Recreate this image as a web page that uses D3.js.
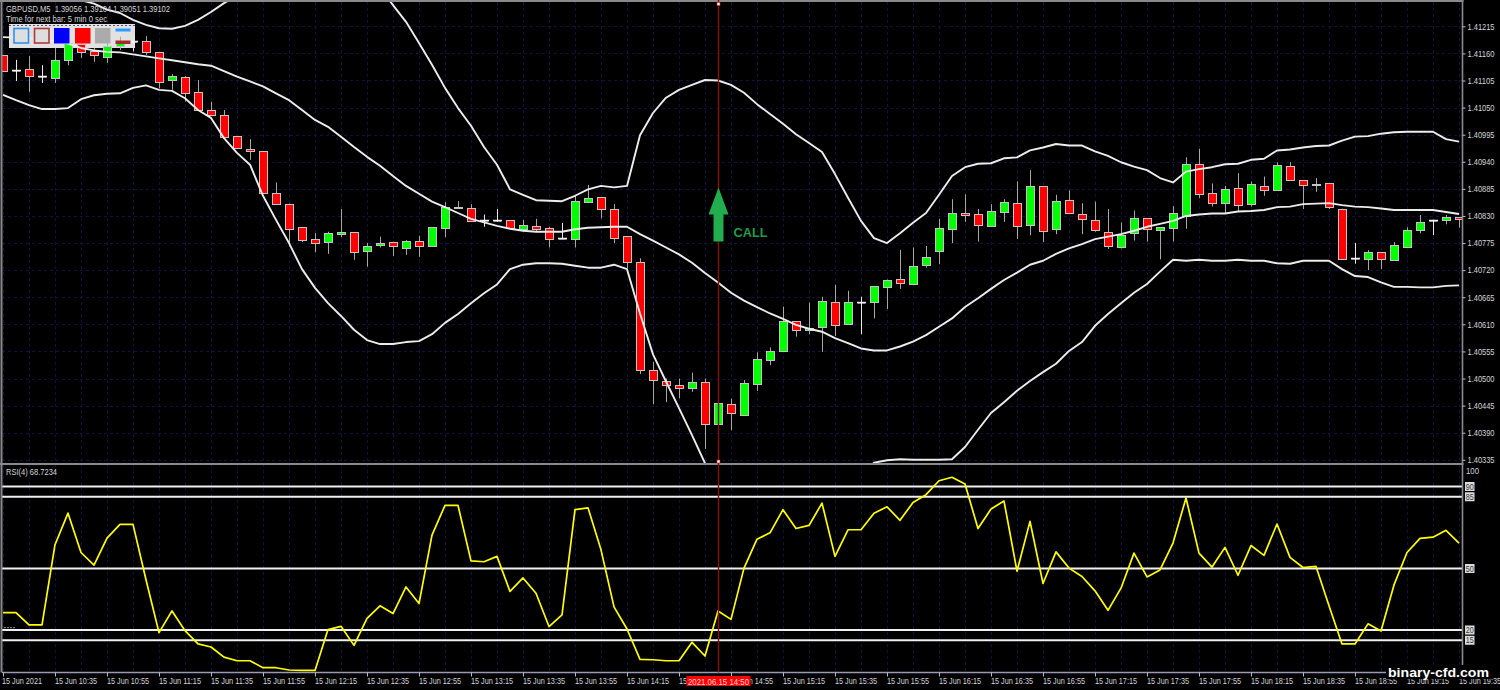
<!DOCTYPE html>
<html><head><meta charset="utf-8">
<script src="https://cdnjs.cloudflare.com/ajax/libs/d3/7.8.5/d3.min.js"></script>
<style>html,body{margin:0;padding:0;background:#000;overflow:hidden}svg{display:block}text{font-family:"Liberation Sans",sans-serif}</style>
</head><body><svg id="c" width="1500" height="690"></svg>
<script>
// Prices are stored as points above 1.40000 (1 point = 0.00001)
const priceBase = 1.4;
const barOpen = [1157,1126,1128,1114,1110,1147,1179,1164,1152,1176,1186,1185,1162,1105,1113,1081,1045,1034,992,965,961,876,855,807,784,777,794,797,758,770,777,764,779,769,807,845,847,822,821,822,804,810,805,785,784,859,868,845,789,737,517,494,486,481,493,407,448,425,490,538,556,616,598,605,656,610,656,656,686,703,691,731,759,804,836,833,810,838,856,810,891,804,862,833,822,798,767,794,825,801,804,831,935,876,857,886,853,891,884,932,902,891,896,845,744,741,756,741,768,802,821,820,827];
const barHigh = [1157,1147,1155,1136,1171,1187,1187,1171,1183,1194,1194,1195,1163,1118,1114,1106,1062,1045,992,986,961,898,855,807,795,798,844,797,775,788,778,781,790,807,858,860,854,833,844,822,822,824,808,816,871,893,868,854,789,744,534,500,500,512,500,450,459,497,553,563,646,616,654,666,690,678,666,688,701,761,766,769,824,864,874,844,854,864,900,923,891,873,882,856,859,844,817,841,825,807,850,949,966,896,891,917,900,910,939,939,902,907,896,845,775,761,756,777,807,832,822,832,827];
const barLow = [1125,1104,1082,1100,1100,1136,1151,1143,1141,1167,1164,1157,1089,1086,1062,1045,1034,990,967,944,876,853,768,777,756,753,787,741,727,766,749,751,747,769,787,845,820,808,818,806,798,797,766,783,766,856,825,775,724,509,448,452,460,473,357,407,395,425,475,527,556,585,590,554,586,610,590,622,641,682,691,725,732,775,818,778,810,818,783,791,777,793,835,793,798,763,764,780,778,742,778,804,866,849,835,839,849,871,884,903,844,879,844,743,733,720,722,741,768,795,791,813,806];
const barClose = [1125,1126,1114,1114,1147,1182,1162,1155,1174,1184,1186,1162,1101,1114,1081,1045,1034,990,967,961,876,853,805,780,775,796,798,756,769,775,769,779,769,807,849,848,820,822,821,806,812,804,783,785,861,867,844,787,737,517,496,486,480,493,407,450,429,490,540,556,616,597,602,658,609,655,656,688,701,695,728,747,805,836,831,810,840,858,810,890,800,861,835,823,802,769,791,825,803,807,835,936,875,856,885,852,894,883,934,903,891,894,847,743,744,756,741,771,802,818,821,827,822];
const bandUpper = [1311,1319,1327,1327,1323,1311,1268,1261,1249,1242,1228,1218,1211,1210,1216,1228,1244,1262,1277,1289,1315,1335,1346,1368,1366,1368,1356,1342,1321,1293,1258,1224,1181,1137,1090,1049,1013,970,934,884,873,862,861,860,871,884,891,888,891,994,1039,1070,1086,1096,1106,1105,1096,1080,1057,1037,1017,996,978,960,915,867,820,785,775,795,816,836,873,911,929,936,937,947,949,963,969,976,973,973,961,952,939,930,923,907,898,920,925,929,935,936,944,946,963,965,969,972,973,983,991,992,997,1000,1001,1001,1001,986,981];
const bandMiddle = [1193,1192,1191,1187,1185,1180,1171,1166,1163,1162,1158,1154,1150,1146,1142,1138,1135,1124,1113,1103,1093,1079,1065,1045,1025,1011,991,970,950,932,911,891,875,859,848,836,824,817,810,804,800,798,798,798,803,806,807,808,808,793,780,766,752,735,714,695,674,658,645,632,621,609,601,595,582,572,561,557,557,565,575,588,605,622,645,663,682,700,715,731,739,753,764,773,783,788,793,800,808,814,820,830,833,835,835,839,840,842,848,849,854,855,856,852,849,848,845,842,842,842,842,838,834];
const bandLower = [1076,1065,1055,1047,1047,1049,1067,1075,1078,1079,1090,1095,1086,1084,1069,1045,1029,988,958,934,871,822,775,722,684,653,627,599,578,570,570,574,576,590,613,631,653,673,691,722,731,734,734,733,729,725,725,731,722,632,549,494,440,385,328,284,253,237,231,227,225,221,223,231,247,276,302,329,334,336,335,335,335,336,361,396,430,452,475,495,513,530,556,574,607,631,653,674,692,717,741,739,741,739,739,741,739,739,734,733,739,739,739,722,708,706,695,686,686,685,685,688,689];
const rsiValues = [28.5,28.5,22.5,22.5,61.6,77,57.8,51.6,64.8,71.5,71.5,44.5,18.7,29.3,19.7,13.2,11.7,6.8,5,5,1.6,1.6,0.5,0.3,0.3,20.2,21.8,12.5,25.7,31.8,28,41,32.9,66.3,80.8,80.8,53.7,53.3,55.9,38.8,45.4,37.9,21.7,27.4,78.7,79.6,59.1,31.3,20.5,5.7,5.5,5,5,14,7.3,29.3,25.2,50.2,64.3,67.4,78.7,69.5,71,81.9,55.9,68.9,68.9,77,80.1,73.5,82.2,86,92.8,94.5,91.2,69.5,79,82.9,48.7,73,42.7,58.1,50.2,46.1,39.1,29.6,40.4,57.5,45.9,49.3,62.4,84.4,57.5,50.7,60.3,46.7,61.2,56.4,71.7,55.4,50.5,51,31.8,13.2,13.2,23,19.5,42,57.8,64.7,65.3,68.6,62.4];
const priceTicks = [1.41215,1.41160,1.41105,1.41050,1.40995,1.40940,1.40885,1.40830,1.40775,1.40720,1.40665,1.40610,1.40555,1.40500,1.40445,1.40390,1.40335];
const rsiLevels = [90,85,50,20,15];
const rsiAxisLabels = [100,0];
const timeLabels = ["15 Jun 2021","15 Jun 10:35","15 Jun 10:55","15 Jun 11:15","15 Jun 11:35","15 Jun 11:55","15 Jun 12:15","15 Jun 12:35","15 Jun 12:55","15 Jun 13:15","15 Jun 13:35","15 Jun 13:55","15 Jun 14:15","15 Jun 14:35","15 Jun 14:55","15 Jun 15:15","15 Jun 15:35","15 Jun 15:55","15 Jun 16:15","15 Jun 16:35","15 Jun 16:55","15 Jun 17:15","15 Jun 17:35","15 Jun 17:55","15 Jun 18:15","15 Jun 18:35","15 Jun 18:55","15 Jun 19:15","15 Jun 19:35"];
const markerBar = 55, markerLabel = "2021.06.15 14:50";
const callTip = 888, callShoulder = 833, callFoot = 778;
const headerLines = ["GBPUSD,M5  1.39056 1.39104 1.39051 1.39102","Time for next bar: 5 min 0 sec"];
const rsiTitle = "RSI(4) 68.7234";

const pr = p => priceBase + p/1e5;
const n = barOpen.length;
const bars = d3.range(n);
const x = d3.scaleLinear().domain([0,n-1]).range([3,1459]);
const y = d3.scaleLinear().domain([1.41215,1.40335]).range([26.3,459.8]);
const yr = d3.scaleLinear().domain([100,0]).range([466,671]);
const M = {l:2,r:1462.5,t:2,b:463,rt:465,rb:672.5};
const FONT = '"Liberation Sans",sans-serif', TXT="#d6d6d6", FS=8.8;
// squeeze text to the narrow width of the terminal's font
const fit = (s,w)=>s.attr("textLength",w).attr("lengthAdjust","spacingAndGlyphs");

const svg = d3.select("#c");
svg.append("rect").attr("width",1500).attr("height",690).attr("fill","#000");
const defs = svg.append("defs");
defs.append("clipPath").attr("id","mainClip").append("rect").attr("x",M.l).attr("y",M.t).attr("width",M.r-M.l).attr("height",M.b-M.t);
defs.append("clipPath").attr("id","rsiClip").append("rect").attr("x",M.l).attr("y",M.rt).attr("width",M.r-M.l).attr("height",M.rb-M.rt);

// grid
const GRID="#12123f";
const gridX = d3.range(0,n,2);
const grid = svg.append("g").attr("stroke",GRID).attr("stroke-width",1).attr("stroke-dasharray","3,3");
grid.selectAll(".gv").data(gridX).join("line").attr("x1",d=>x(d)+.5).attr("x2",d=>x(d)+.5).attr("y1",M.t).attr("y2",M.rb);
grid.selectAll(".gh").data(priceTicks).join("line").attr("x1",M.l).attr("x2",M.r).attr("y1",d=>Math.round(y(d))+.5).attr("y2",d=>Math.round(y(d))+.5);

// panel separator
svg.append("rect").attr("x",0).attr("y",M.b).attr("width",M.r+1).attr("height",2).attr("fill","#8a8a8a");

// menu background
const menu = {x:9,y:24,w:126,h:24};
svg.append("rect").attr("x",menu.x).attr("y",menu.y).attr("width",menu.w).attr("height",menu.h).attr("fill","#e2e2e2");
svg.append("line").attr("x1",menu.x).attr("x2",menu.x+menu.w).attr("y1",menu.y+1.5).attr("y2",menu.y+1.5).attr("stroke","#555577").attr("stroke-dasharray","2,2");

// candles
const main = svg.append("g").attr("clip-path","url(#mainClip)");
main.selectAll(".wick").data(bars).join("line")
  .attr("x1",i=>x(i)+.5).attr("x2",i=>x(i)+.5)
  .attr("y1",i=>y(pr(barHigh[i]))).attr("y2",i=>y(pr(barLow[i])))
  .attr("stroke",i=>barOpen[i]===barClose[i]?"#e8e8e8":"#a8a8a8").attr("stroke-width",1);
main.selectAll(".body").data(bars).join("rect")
  .attr("x",i=>x(i)-3.5).attr("width",8)
  .attr("y",i=>Math.round(y(pr(Math.max(barOpen[i],barClose[i]))))+.5)
  .attr("height",i=>Math.max(Math.round(Math.abs(y(pr(barOpen[i]))-y(pr(barClose[i])))),1))
  .attr("fill",i=>barClose[i]>barOpen[i]?"#00ff00":barClose[i]<barOpen[i]?"#ff0000":"#ffffff")
  .attr("stroke",i=>barClose[i]===barOpen[i]?"none":"#c4c4c4").attr("stroke-width",1);
main.selectAll(".doji").data(bars.filter(i=>barOpen[i]===barClose[i])).join("line")
  .attr("x1",i=>x(i)-4).attr("x2",i=>x(i)+5)
  .attr("y1",i=>Math.round(y(pr(barOpen[i])))+.5).attr("y2",i=>Math.round(y(pr(barOpen[i])))+.5)
  .attr("stroke","#f0f0f0").attr("stroke-width",1.4);

// Bollinger bands
const bandLine = d3.line().x((d,i)=>x(i)).y(d=>y(pr(d)));
[bandUpper,bandMiddle,bandLower].forEach(b=>{
  main.append("path").attr("d",bandLine(b)).attr("fill","none").attr("stroke","#ececec").attr("stroke-width",1.9).attr("stroke-linejoin","round");
});

// menu buttons
const btn = svg.append("g");
btn.append("rect").attr("x",14).attr("y",28.5).attr("width",14.5).attr("height",14.5).attr("fill","#dedede").attr("stroke","#2f8fef").attr("stroke-width",1.6);
btn.append("rect").attr("x",34.5).attr("y",28.5).attr("width",14.5).attr("height",14.5).attr("fill","#dedede").attr("stroke","#b03a3a").attr("stroke-width",1.6);
btn.append("rect").attr("x",54).attr("y",28).attr("width",15.5).attr("height",15.5).attr("fill","#0000ff");
btn.append("rect").attr("x",75).attr("y",28).attr("width",15.5).attr("height",15.5).attr("fill","#ff0000");
btn.append("rect").attr("x",95).attr("y",28).attr("width",15.5).attr("height",15.5).attr("fill","#ababab");
btn.append("rect").attr("x",115.5).attr("y",28.5).attr("width",15).attr("height",3).attr("fill","#2f9bff");
btn.append("rect").attr("x",115.5).attr("y",40.5).attr("width",15).attr("height",3.5).attr("fill","#a52a2a");

// RSI panel
const rsi = svg.append("g").attr("clip-path","url(#rsiClip)");
rsi.selectAll(".lvl").data(rsiLevels).join("line")
  .attr("x1",M.l).attr("x2",M.r).attr("y1",d=>yr(d)).attr("y2",d=>yr(d))
  .attr("stroke","#f0f0f0").attr("stroke-width",2);
rsi.append("path").attr("d",d3.line().x((d,i)=>x(i)).y(d=>yr(d))(rsiValues)).attr("fill","none").attr("stroke","#ffff00").attr("stroke-width",1.7).attr("stroke-linejoin","round");
svg.append("line").attr("x1",4).attr("x2",16).attr("y1",627.7).attr("y2",627.7).attr("stroke","#9a9a9a").attr("stroke-dasharray","2,1");

// frame
svg.append("line").attr("x1",1.5).attr("x2",1.5).attr("y1",0).attr("y2",M.rb).attr("stroke","#8a8a8a").attr("stroke-width",2);
svg.append("line").attr("x1",0).attr("x2",M.r+1).attr("y1",1).attr("y2",1).attr("stroke","#8a8a8a").attr("stroke-width",2);
svg.append("line").attr("x1",M.r).attr("x2",M.r).attr("y1",0).attr("y2",M.rb).attr("stroke","#8a8a8a").attr("stroke-width",1.6);
svg.append("line").attr("x1",M.l).attr("x2",M.r).attr("y1",M.rb).attr("y2",M.rb).attr("stroke","#9a9ab8").attr("stroke-width",1.4);

// vertical marker
const mx = x(markerBar)+.5;
svg.append("line").attr("x1",mx).attr("x2",mx).attr("y1",0).attr("y2",M.rb).attr("stroke","#8b0f0f").attr("stroke-width",1.4);
[4,461.5].forEach(v=>svg.append("rect").attr("x",mx-1.5).attr("y",v-1.5).attr("width",3).attr("height",3).attr("fill","#fff").attr("stroke","#d02020").attr("stroke-width",.6));

// CALL arrow
const ay = p=>y(pr(p));
const halfHead = 10, halfShaft = 5;
svg.append("path").attr("fill","#22ad4e").attr("d",d3.line()([
 [mx,ay(callTip)],[mx+halfHead,ay(callShoulder)],[mx+halfShaft,ay(callShoulder)],[mx+halfShaft,ay(callFoot)],
 [mx-halfShaft,ay(callFoot)],[mx-halfShaft,ay(callShoulder)],[mx-halfHead,ay(callShoulder)]])+"Z");
svg.append("text").attr("x",mx+15).attr("y",ay(callFoot)-4.5).text("CALL").attr("fill","#1f9d48").attr("font-size",13.5).attr("font-weight","bold").attr("font-family",'"Open Sans",sans-serif').call(fit,34);

// price axis
const axY = svg.append("g").call(d3.axisRight(y).tickValues(priceTicks).tickFormat(d3.format(".5f")).tickSize(3).tickPadding(2)).attr("transform",`translate(${M.r},0)`);
axY.select(".domain").remove();
axY.selectAll("line").attr("stroke","#bbb");
axY.selectAll("text").attr("fill",TXT).attr("font-size",FS).attr("font-family",FONT).call(fit,27);

// time axis
const tickBars = timeLabels.map((d,i)=>i*4);
const tg = svg.append("g");
tg.selectAll("line").data(tickBars).join("line").attr("x1",d=>x(d)+.5).attr("x2",d=>x(d)+.5).attr("y1",M.rb).attr("y2",M.rb+4).attr("stroke","#bbb");
tg.selectAll("text").data(tickBars).join("text").attr("x",d=>d===0?2:x(d)).attr("y",684).text((d,i)=>timeLabels[i]).attr("fill",TXT).attr("font-size",FS).attr("font-family",FONT).each(function(d){d3.select(this).call(fit,d===0?40:42)});

// marker date label
svg.append("rect").attr("x",mx-32).attr("y",676).attr("width",64).attr("height",10).attr("fill","#ff0000");
svg.append("text").attr("x",mx-30.5).attr("y",684.5).text(markerLabel).attr("fill","#ffd8d8").attr("font-size",FS).attr("font-family",FONT).call(fit,61);

// RSI axis
rsiAxisLabels.forEach(v=>{svg.append("text").attr("x",1466).attr("y",yr(v)+(v===100?7.5:0)).text(v).attr("fill",TXT).attr("font-size",FS).attr("font-family",FONT).call(fit,v===100?13:4.5);});
const lb = svg.append("g").selectAll("g").data(rsiLevels).join("g").attr("transform",d=>`translate(1465,${yr(d)-4.5})`);
lb.append("rect").attr("width",9.5).attr("height",9).attr("fill","#dcdcdc");
lb.append("text").attr("x",.8).attr("y",7.5).text(d=>d).attr("fill","#333").attr("font-size",FS).call(fit,8);

// headers
svg.selectAll(".h").data(headerLines).join("text").attr("x",6).attr("y",(d,i)=>11.5+i*10.5).attr("xml:space","preserve").style("white-space","pre").text(d=>d).attr("fill",TXT).attr("font-size",FS).attr("font-family",FONT).each(function(d,i){d3.select(this).call(fit,i?101:164)});
svg.append("text").attr("x",6).attr("y",475).text(rsiTitle).attr("fill",TXT).attr("font-size",FS).attr("font-family",FONT).call(fit,51);

// watermark
svg.append("rect").attr("x",1386).attr("y",665).attr("width",105).attr("height",14).attr("fill","#000");
svg.append("text").attr("x",1388).attr("y",676.5).text("binary-cfd.com").attr("fill","#fff").attr("font-weight","bold").attr("font-size",13).attr("font-family",'"DejaVu Sans",sans-serif').call(fit,101);
</script></body></html>
